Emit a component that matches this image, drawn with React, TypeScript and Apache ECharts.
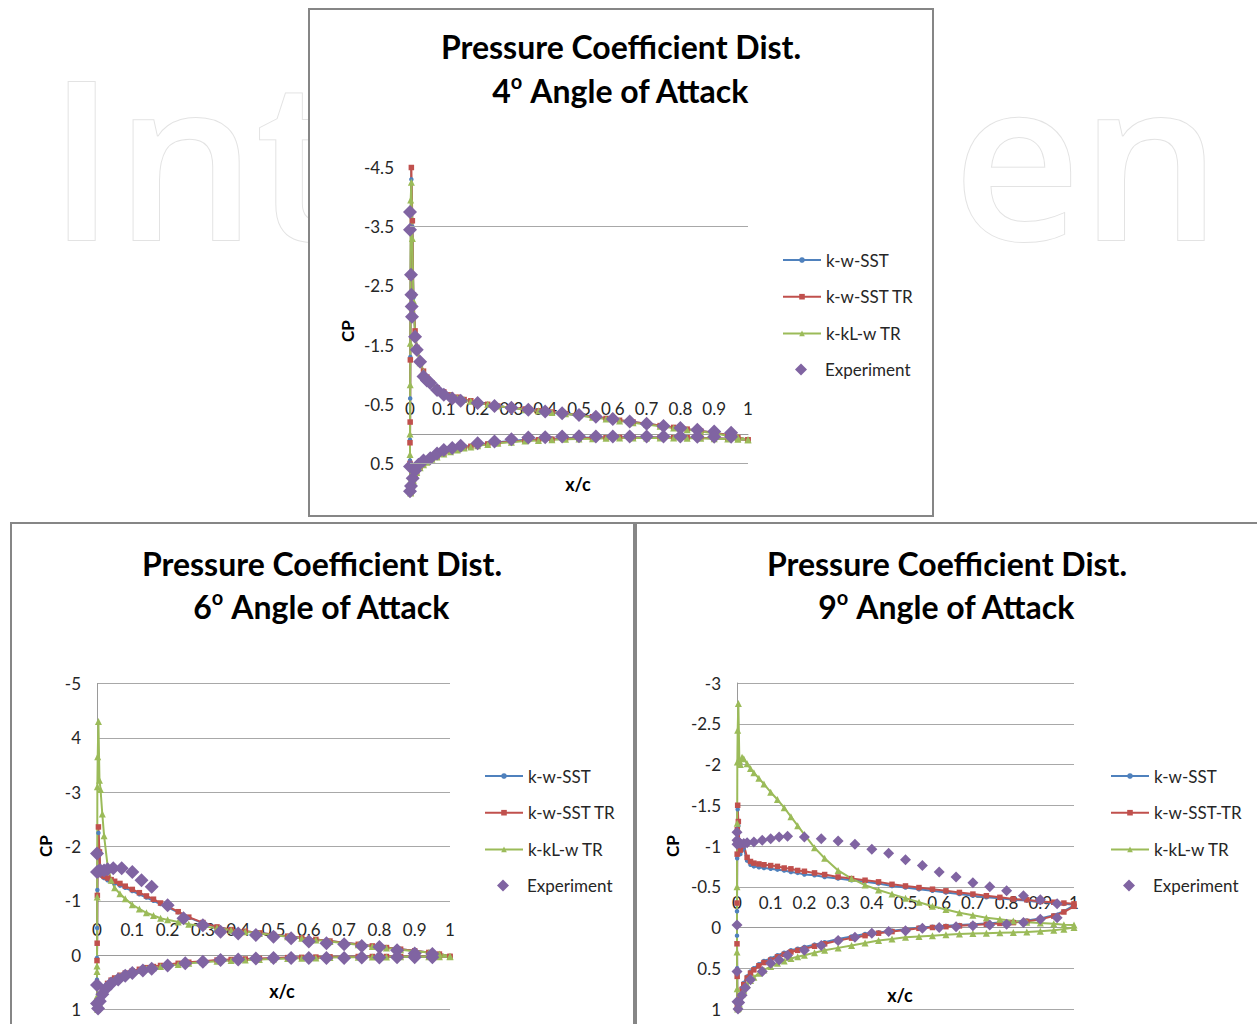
import React, { useEffect, useRef } from "react";
import * as echarts from "echarts";

// Chordwise stations (x/c) shared by every computed distribution, leading edge to trailing edge
const X_STATIONS = [0, 0.0005, 0.001, 0.002, 0.004, 0.007, 0.01, 0.015, 0.02, 0.03, 0.04, 0.05, 0.065, 0.08, 0.1, 0.12, 0.14, 0.16, 0.18, 0.2, 0.23, 0.26, 0.3, 0.34, 0.38, 0.42, 0.46, 0.5, 0.54, 0.58, 0.62, 0.66, 0.7, 0.74, 0.78, 0.82, 0.86, 0.9, 0.94, 0.97, 1];

// ---- 4 degrees ----
const SST_4_UPPER = [0.1, -0.6, -1.3, -2.7, -4.3, -3.5, -2.3, -1.72, -1.45, -1.2, -1.05, -0.95, -0.85, -0.77, -0.7, -0.65, -0.61, -0.58, -0.55, -0.53, -0.5, -0.47, -0.44, -0.41, -0.39, -0.36, -0.34, -0.31, -0.29, -0.26, -0.23, -0.2, -0.17, -0.14, -0.11, -0.08, -0.05, -0.02, 0.02, 0.06, 0.1];
const SSTTR_4_UPPER = [0.15, -0.2, -1.25, -2.65, -4.5, -3.6, -2.35, -1.74, -1.46, -1.21, -1.06, -0.96, -0.86, -0.78, -0.71, -0.66, -0.62, -0.58, -0.56, -0.53, -0.5, -0.47, -0.44, -0.42, -0.39, -0.37, -0.34, -0.32, -0.29, -0.26, -0.23, -0.2, -0.17, -0.14, -0.11, -0.08, -0.05, -0.02, 0.02, 0.06, 0.1];
const KKL_4_UPPER = [0.0, -0.83, -1.53, -3.95, -4.25, -3.3, -2.25, -1.7, -1.44, -1.2, -1.05, -0.95, -0.85, -0.77, -0.7, -0.65, -0.61, -0.58, -0.55, -0.53, -0.5, -0.47, -0.44, -0.41, -0.39, -0.36, -0.34, -0.31, -0.28, -0.25, -0.22, -0.19, -0.16, -0.13, -0.1, -0.07, -0.04, -0.01, 0.03, 0.06, 0.1];
const SST_4_LOWER = [0.45, 0.85, 0.98, 1.0, 0.93, 0.84, 0.77, 0.69, 0.63, 0.55, 0.5, 0.46, 0.41, 0.37, 0.32, 0.28, 0.25, 0.22, 0.2, 0.18, 0.16, 0.14, 0.12, 0.1, 0.09, 0.08, 0.07, 0.065, 0.06, 0.06, 0.055, 0.055, 0.055, 0.06, 0.06, 0.065, 0.07, 0.075, 0.08, 0.09, 0.1];
const SSTTR_4_LOWER = [0.5, 0.88, 0.99, 1.0, 0.94, 0.85, 0.78, 0.7, 0.64, 0.56, 0.51, 0.47, 0.42, 0.38, 0.33, 0.29, 0.26, 0.23, 0.21, 0.19, 0.17, 0.15, 0.13, 0.11, 0.1, 0.09, 0.08, 0.075, 0.07, 0.065, 0.06, 0.06, 0.06, 0.06, 0.065, 0.065, 0.07, 0.075, 0.08, 0.09, 0.1];
const KKL_4_LOWER = [0.35, 0.8, 0.97, 1.0, 0.95, 0.86, 0.79, 0.71, 0.65, 0.57, 0.52, 0.48, 0.43, 0.39, 0.34, 0.3, 0.27, 0.24, 0.22, 0.2, 0.18, 0.16, 0.14, 0.12, 0.11, 0.1, 0.09, 0.085, 0.08, 0.075, 0.07, 0.07, 0.07, 0.07, 0.07, 0.075, 0.075, 0.08, 0.085, 0.09, 0.1];
const EXP_4_X_UPPER = [0, 0, 0.003, 0.004, 0.005, 0.006, 0.015, 0.02, 0.03, 0.04, 0.05, 0.06, 0.08, 0.1, 0.125, 0.15, 0.2, 0.25, 0.3, 0.35, 0.4, 0.45, 0.5, 0.55, 0.6, 0.65, 0.7, 0.75, 0.8, 0.85, 0.9, 0.95];
const EXP_4_CP_UPPER = [-3.75, -3.45, -2.69, -2.35, -2.15, -1.98, -1.64, -1.42, -1.22, -0.97, -0.9, -0.86, -0.74, -0.66, -0.6, -0.56, -0.52, -0.47, -0.44, -0.41, -0.38, -0.35, -0.32, -0.29, -0.25, -0.21, -0.17, -0.135, -0.1, -0.07, -0.04, -0.02];
const EXP_4_X_LOWER = [0, 0, 0.003, 0.008, 0.015, 0.025, 0.04, 0.06, 0.08, 0.1, 0.125, 0.15, 0.2, 0.25, 0.3, 0.35, 0.4, 0.45, 0.5, 0.55, 0.6, 0.65, 0.7, 0.75, 0.8, 0.85, 0.9, 0.95];
const EXP_4_CP_LOWER = [0.55, 0.97, 0.88, 0.75, 0.62, 0.52, 0.45, 0.41, 0.33, 0.27, 0.24, 0.2, 0.16, 0.13, 0.09, 0.06, 0.055, 0.045, 0.04, 0.045, 0.045, 0.045, 0.045, 0.045, 0.045, 0.05, 0.05, 0.05];

// ---- 6 degrees ----
const SST_6_UPPER = [0.05, -0.5, -1.2, -1.85, -2.25, -1.85, -1.5, -1.45, -1.42, -1.38, -1.35, -1.32, -1.28, -1.24, -1.18, -1.12, -1.06, -1.0, -0.94, -0.88, -0.79, -0.69, -0.59, -0.52, -0.47, -0.44, -0.41, -0.38, -0.35, -0.32, -0.29, -0.26, -0.23, -0.2, -0.17, -0.14, -0.11, -0.08, -0.05, -0.02, 0.02];
const SSTTR_6_UPPER = [0.1, -0.22, -1.1, -1.9, -2.36, -1.9, -1.52, -1.48, -1.45, -1.42, -1.39, -1.36, -1.32, -1.27, -1.21, -1.15, -1.09, -1.03, -0.96, -0.9, -0.8, -0.7, -0.6, -0.52, -0.47, -0.44, -0.41, -0.38, -0.35, -0.32, -0.29, -0.26, -0.23, -0.2, -0.17, -0.14, -0.11, -0.08, -0.05, -0.02, 0.02];
const KKL_6_UPPER = [0.2, -1.07, -3.1, -3.65, -4.3, -3.22, -3.05, -2.6, -2.2, -1.65, -1.38, -1.24, -1.13, -1.04, -0.93, -0.85, -0.78, -0.73, -0.68, -0.65, -0.61, -0.57, -0.53, -0.5, -0.46, -0.43, -0.4, -0.37, -0.34, -0.31, -0.28, -0.25, -0.22, -0.19, -0.16, -0.13, -0.1, -0.07, -0.05, -0.02, 0.02];
const SST_6_LOWER = [0.45, 0.8, 0.96, 1.0, 0.95, 0.86, 0.77, 0.67, 0.61, 0.53, 0.47, 0.43, 0.38, 0.34, 0.3, 0.27, 0.24, 0.22, 0.2, 0.18, 0.16, 0.14, 0.12, 0.1, 0.09, 0.08, 0.07, 0.06, 0.05, 0.045, 0.04, 0.035, 0.03, 0.03, 0.03, 0.03, 0.03, 0.03, 0.03, 0.03, 0.03];
const SSTTR_6_LOWER = [0.55, 0.85, 0.97, 1.0, 0.95, 0.85, 0.76, 0.66, 0.6, 0.52, 0.46, 0.42, 0.37, 0.33, 0.29, 0.26, 0.23, 0.21, 0.19, 0.17, 0.15, 0.13, 0.11, 0.09, 0.08, 0.07, 0.06, 0.05, 0.045, 0.04, 0.035, 0.03, 0.03, 0.025, 0.025, 0.025, 0.025, 0.025, 0.025, 0.025, 0.03];
const KKL_6_LOWER = [0.3, 0.75, 0.95, 1.0, 0.96, 0.88, 0.8, 0.7, 0.63, 0.54, 0.48, 0.44, 0.39, 0.35, 0.31, 0.28, 0.25, 0.23, 0.21, 0.19, 0.17, 0.15, 0.13, 0.11, 0.1, 0.09, 0.08, 0.07, 0.06, 0.055, 0.05, 0.045, 0.04, 0.04, 0.035, 0.035, 0.03, 0.03, 0.03, 0.03, 0.03];
const EXP_6_X_UPPER = [0, 0, 0.005, 0.01, 0.02, 0.03, 0.046, 0.07, 0.1, 0.126, 0.155, 0.2, 0.245, 0.3, 0.35, 0.4, 0.45, 0.5, 0.55, 0.6, 0.65, 0.7, 0.75, 0.8, 0.85, 0.9, 0.95];
const EXP_6_CP_UPPER = [-1.87, -1.53, -1.55, -1.56, -1.56, -1.58, -1.6, -1.6, -1.53, -1.38, -1.26, -0.92, -0.68, -0.55, -0.43, -0.4, -0.37, -0.34, -0.31, -0.25, -0.22, -0.2, -0.17, -0.15, -0.09, -0.03, -0.02];
const EXP_6_X_LOWER = [0, 0, 0.003, 0.008, 0.015, 0.025, 0.04, 0.06, 0.08, 0.1, 0.13, 0.155, 0.2, 0.25, 0.3, 0.35, 0.4, 0.45, 0.5, 0.55, 0.6, 0.65, 0.7, 0.75, 0.8, 0.85, 0.9, 0.95];
const EXP_6_CP_LOWER = [0.55, 0.89, 0.98, 0.85, 0.72, 0.62, 0.52, 0.45, 0.38, 0.33, 0.28, 0.25, 0.19, 0.15, 0.12, 0.09, 0.08, 0.06, 0.05, 0.05, 0.05, 0.05, 0.05, 0.045, 0.045, 0.04, 0.04, 0.04];

// ---- 9 degrees ----
const SST_9_UPPER = [-0.2, -0.85, -1.15, -1.45, -1.25, -1.0, -0.9, -0.95, -0.97, -0.82, -0.77, -0.75, -0.74, -0.73, -0.72, -0.71, -0.7, -0.68, -0.67, -0.65, -0.64, -0.62, -0.6, -0.58, -0.56, -0.54, -0.51, -0.49, -0.47, -0.45, -0.43, -0.41, -0.39, -0.37, -0.36, -0.34, -0.33, -0.31, -0.3, -0.29, -0.28];
const SSTTR_9_UPPER = [-0.3, -0.9, -1.2, -1.5, -1.3, -1.05, -0.95, -1.0, -1.02, -0.86, -0.81, -0.79, -0.78, -0.77, -0.76, -0.75, -0.73, -0.72, -0.7, -0.69, -0.67, -0.65, -0.62, -0.6, -0.58, -0.56, -0.53, -0.51, -0.49, -0.47, -0.45, -0.43, -0.41, -0.39, -0.37, -0.35, -0.34, -0.32, -0.31, -0.3, -0.29];
const KKL_9_UPPER = [-0.5, -1.28, -2.03, -2.42, -2.75, -2.05, -2.0, -2.09, -2.07, -2.01, -1.95, -1.9, -1.83, -1.76, -1.66, -1.57, -1.47, -1.36, -1.25, -1.14, -0.98, -0.85, -0.7, -0.6, -0.52, -0.46, -0.41, -0.36, -0.31, -0.26, -0.22, -0.18, -0.15, -0.12, -0.1, -0.08, -0.065, -0.055, -0.045, -0.035, -0.03];
const SST_9_LOWER = [0.1, 0.5, 0.9, 1.0, 0.95, 0.88, 0.82, 0.74, 0.68, 0.6, 0.54, 0.5, 0.45, 0.41, 0.38, 0.34, 0.31, 0.28, 0.26, 0.24, 0.21, 0.18, 0.14, 0.11, 0.08, 0.06, 0.04, 0.02, 0.0, -0.01, -0.02, -0.03, -0.04, -0.05, -0.06, -0.07, -0.085, -0.11, -0.15, -0.2, -0.27];
const SSTTR_9_LOWER = [0.2, 0.6, 0.95, 1.0, 0.96, 0.9, 0.84, 0.76, 0.7, 0.62, 0.56, 0.52, 0.47, 0.43, 0.4, 0.36, 0.33, 0.3, 0.28, 0.26, 0.23, 0.2, 0.16, 0.13, 0.1, 0.07, 0.05, 0.03, 0.01, 0.0, -0.01, -0.02, -0.03, -0.04, -0.05, -0.06, -0.075, -0.1, -0.14, -0.19, -0.26];
const KKL_9_LOWER = [0.3, 0.75, 0.98, 1.0, 0.99, 0.94, 0.89, 0.82, 0.77, 0.7, 0.65, 0.61, 0.56, 0.52, 0.48, 0.44, 0.41, 0.38, 0.36, 0.34, 0.31, 0.28, 0.25, 0.22, 0.19, 0.16, 0.14, 0.12, 0.11, 0.1, 0.09, 0.08, 0.075, 0.07, 0.065, 0.06, 0.055, 0.045, 0.035, 0.02, 0.0];
const EXP_9_X_UPPER = [0, 0, 0, 0.005, 0.01, 0.02, 0.03, 0.05, 0.075, 0.1, 0.125, 0.15, 0.2, 0.25, 0.3, 0.35, 0.4, 0.45, 0.5, 0.55, 0.6, 0.65, 0.7, 0.75, 0.8, 0.85, 0.9, 0.95];
const EXP_9_CP_UPPER = [-1.17, -1.07, -1.02, -1.04, -1.03, -1.03, -1.04, -1.05, -1.07, -1.09, -1.11, -1.12, -1.11, -1.09, -1.06, -1.02, -0.96, -0.91, -0.83, -0.76, -0.68, -0.62, -0.55, -0.5, -0.45, -0.39, -0.34, -0.29];
const EXP_9_X_LOWER = [0, 0, 0, 0.003, 0.008, 0.015, 0.025, 0.04, 0.075, 0.1, 0.125, 0.15, 0.2, 0.25, 0.3, 0.35, 0.4, 0.45, 0.5, 0.55, 0.6, 0.65, 0.7, 0.75, 0.8, 0.85, 0.9, 0.95];
const EXP_9_CP_LOWER = [-0.03, 0.54, 0.91, 1.0, 0.92, 0.83, 0.74, 0.64, 0.54, 0.44, 0.4, 0.34, 0.28, 0.22, 0.16, 0.12, 0.07, 0.05, 0.04, 0.01, 0.0, -0.01, -0.02, -0.03, -0.04, -0.06, -0.1, -0.12];

// ---- labels ----
const MODEL_NAMES = ["k-w-SST", "k-w-SST TR", "k-kL-w TR"];
const MODEL_NAMES_9 = ["k-w-SST", "k-w-SST-TR", "k-kL-w TR"];
const EXPERIMENT = "Experiment";
const TITLE_LINE = "Pressure Coefficient Dist.";
const Y_LABELS_6 = ["-5", "4", "-3", "-2", "-1", "0", "1"];
const TOP_GRID_LINES = [-3.5, 0.5];

// ---- styling ----
const FONT = "Lato, 'Open Sans', sans-serif";
const TEXT = "#262626";
const AXIS_GRAY = "#9a9a9a";
const GRID_GRAY = "#a8a8a8";
const FRAME_GRAY = "#868686";
const MODEL_STYLES = [
  { symbol: "circle", size: 4.5, color: "#4F81BD" },
  { symbol: "rect", size: 5.5, color: "#C0504D" },
  { symbol: "triangle", size: 7, color: "#9BBB59" },
];
const EXP_COLOR = "#8064A2";

const PANELS = [
  {
    angle: "4",
    names: MODEL_NAMES,
    upper: [SST_4_UPPER, SSTTR_4_UPPER, KKL_4_UPPER],
    lower: [SST_4_LOWER, SSTTR_4_LOWER, KKL_4_LOWER],
    exp: [EXP_4_X_UPPER, EXP_4_CP_UPPER, EXP_4_X_LOWER, EXP_4_CP_LOWER],
    yMin: -4.5, yMax: 1, yStep: 1,
    yFormat: (v: number) => v.toFixed(1),
    showMaxLabel: false,
    grid: { left: 410, top: 167.5, width: 338, height: 325.6 },
    frame: { x: 309, y: 9, width: 624, height: 507 },
    titleX: 621, titleY: [46, 90],
    cp: [347, 331], xc: [578, 484],
    legendX: 782, legendY: 260,
    diamond: 14,
  },
  {
    angle: "6",
    names: MODEL_NAMES,
    upper: [SST_6_UPPER, SSTTR_6_UPPER, KKL_6_UPPER],
    lower: [SST_6_LOWER, SSTTR_6_LOWER, KKL_6_LOWER],
    exp: [EXP_6_X_UPPER, EXP_6_CP_UPPER, EXP_6_X_LOWER, EXP_6_CP_LOWER],
    yMin: -5, yMax: 1, yStep: 1,
    yFormat: (v: number) => Y_LABELS_6[Math.round(v + 5)] ?? String(v),
    showMaxLabel: true,
    grid: { left: 97, top: 683.5, width: 353, height: 326 },
    frame: { x: 11, y: 523, width: 623, height: 530 },
    titleX: 322, titleY: [563, 606],
    cp: [45, 846], xc: [282, 991],
    legendX: 484, legendY: 776,
    diamond: 14,
  },
  {
    angle: "9",
    names: MODEL_NAMES_9,
    upper: [SST_9_UPPER, SSTTR_9_UPPER, KKL_9_UPPER],
    lower: [SST_9_LOWER, SSTTR_9_LOWER, KKL_9_LOWER],
    exp: [EXP_9_X_UPPER, EXP_9_CP_UPPER, EXP_9_X_LOWER, EXP_9_CP_LOWER],
    yMin: -3, yMax: 1, yStep: 0.5,
    yFormat: (v: number) => String(v),
    showMaxLabel: true,
    grid: { left: 737, top: 683, width: 337, height: 326 },
    frame: { x: 636, y: 523, width: 650, height: 530 },
    titleX: 947, titleY: [563, 606],
    cp: [672, 846], xc: [900, 995],
    legendX: 1110, legendY: 776,
    diamond: 11,
  },
];

// Background watermark pieces that stay visible around the top frame
const WATERMARK = [
  { text: "Int", x: 48, align: "left" },
  { text: "en", x: 1221, align: "right" },
];

// Surface loop: upper surface from trailing edge to leading edge, then lower surface back
function surfaceLoop(upper: number[], lower: number[]) {
  const pts: number[][] = [];
  for (let i = X_STATIONS.length - 1; i >= 0; i--) pts.push([X_STATIONS[i], upper[i]]);
  for (let i = 0; i < X_STATIONS.length; i++) pts.push([X_STATIONS[i], lower[i]]);
  return pts;
}

function pairs(xs: number[], ys: number[]) {
  return xs.map((x, i) => [x, ys[i]]);
}

function buildOption() {
  const grid: any[] = [];
  const xAxis: any[] = [];
  const yAxis: any[] = [];
  const series: any[] = [];
  const legend: any[] = [];
  const graphic: any[] = [];

  WATERMARK.forEach((g) => {
    graphic.push({
      type: "text",
      z: -10,
      silent: true,
      style: {
        text: g.text,
        x: g.x,
        y: 154,
        align: g.align,
        verticalAlign: "middle",
        fontSize: 221,
        fontWeight: 600,
        fontFamily: "'Open Sans', sans-serif",
        fill: "#ffffff",
        stroke: "#e3e3e3",
        lineWidth: 2,
      },
    });
  });

  PANELS.forEach((p, i) => {
    graphic.push({
      type: "rect",
      z: -5,
      silent: true,
      shape: p.frame,
      style: { fill: "#ffffff", stroke: FRAME_GRAY, lineWidth: 2 },
    });
    graphic.push({
      type: "text",
      z: 10,
      silent: true,
      style: {
        text: TITLE_LINE,
        x: p.titleX,
        y: p.titleY[0],
        align: "center",
        verticalAlign: "middle",
        fontSize: 32,
        fontWeight: "bold",
        fontFamily: FONT,
        fill: "#000",
      },
    });
    graphic.push({
      type: "text",
      z: 10,
      silent: true,
      style: {
        text: `{m|${p.angle}}{s|o}{m| Angle of Attack}`,
        x: p.titleX,
        y: p.titleY[1],
        align: "center",
        verticalAlign: "middle",
        rich: {
          m: { fontSize: 32, fontWeight: "bold", fontFamily: FONT, fill: "#000", lineHeight: 38 },
          s: { fontSize: 20, fontWeight: "bold", fontFamily: FONT, fill: "#000", lineHeight: 20, verticalAlign: "top" },
        },
      },
    });
    graphic.push({
      type: "text",
      z: 10,
      silent: true,
      x: p.cp[0],
      y: p.cp[1],
      rotation: Math.PI / 2,
      style: {
        text: "CP",
        x: 0,
        y: 0,
        align: "center",
        verticalAlign: "middle",
        fontSize: 17,
        fontWeight: "bold",
        fontFamily: FONT,
        fill: "#000",
      },
    });
    graphic.push({
      type: "text",
      z: 10,
      silent: true,
      style: {
        text: "x/c",
        x: p.xc[0],
        y: p.xc[1],
        align: "center",
        verticalAlign: "middle",
        fontSize: 18,
        fontWeight: "bold",
        fontFamily: FONT,
        fill: "#000",
      },
    });

    grid.push({ ...p.grid, containLabel: false, outerBoundsMode: "none" });

    // the horizontal axis crosses the inverted Cp axis at Cp = 0
    const zeroOffset = (p.grid.height * (0 - p.yMin)) / (p.yMax - p.yMin);
    xAxis.push({
      type: "value",
      gridIndex: i,
      min: 0,
      max: 1,
      interval: 0.1,
      position: "top",
      offset: -zeroOffset,
      axisLine: { show: true, onZero: false, lineStyle: { color: AXIS_GRAY, width: 1 } },
      axisTick: { show: false },
      splitLine: { show: false },
      axisLabel: {
        margin: 17,
        color: TEXT,
        fontSize: 17,
        fontFamily: FONT,
        formatter: (v: number) => String(Math.round(v * 10) / 10),
      },
    });

    yAxis.push({
      type: "value",
      gridIndex: i,
      inverse: true,
      min: p.yMin,
      max: p.yMax,
      interval: p.yStep,
      axisLine: { show: true, onZero: false, lineStyle: { color: AXIS_GRAY, width: 1 } },
      axisTick: { show: false },
      splitLine: { show: i !== 0, lineStyle: { color: GRID_GRAY, width: 1 } },
      axisLabel: {
        margin: 16,
        color: TEXT,
        fontSize: 17,
        fontFamily: FONT,
        showMaxLabel: p.showMaxLabel,
        formatter: p.yFormat,
      },
    });

    p.names.forEach((name, k) => {
      const st = MODEL_STYLES[k];
      const s: any = {
        type: "line",
        name,
        xAxisIndex: i,
        yAxisIndex: i,
        data: surfaceLoop(p.upper[k], p.lower[k]),
        symbol: st.symbol,
        symbolSize: st.size,
        showSymbol: true,
        showAllSymbol: true,
        silent: true,
        lineStyle: { color: st.color, width: 2 },
        itemStyle: { color: st.color, borderWidth: 0 },
        emphasis: { disabled: true },
      };
      if (i === 0 && k === 0) {
        s.markLine = {
          silent: true,
          symbol: ["none", "none"],
          label: { show: false },
          lineStyle: { color: GRID_GRAY, type: "solid", width: 1 },
          data: TOP_GRID_LINES.map((v) => ({ yAxis: v })),
        };
      }
      series.push(s);
    });

    const [xu, cu, xl, cl] = p.exp;
    series.push({
      type: "scatter",
      name: EXPERIMENT,
      xAxisIndex: i,
      yAxisIndex: i,
      data: pairs(xu, cu).concat(pairs(xl, cl)),
      symbol: "diamond",
      symbolSize: p.diamond,
      silent: true,
      itemStyle: { color: EXP_COLOR, opacity: 1 },
      emphasis: { disabled: true },
      z: 3,
    });

    const legendText = { color: TEXT, fontSize: 17, fontFamily: FONT };
    legend.push({
      orient: "vertical",
      left: p.legendX,
      top: p.legendY - 8.5,
      padding: 0,
      itemWidth: 38,
      itemHeight: 7,
      itemGap: 19.7,
      selectedMode: false,
      textStyle: legendText,
      lineStyle: { width: 2 },
      data: p.names,
    });
    // experiment entry: a small diamond centred under the line icons, text aligned with them
    legend.push({
      orient: "vertical",
      left: p.legendX + 13,
      top: p.legendY + 3 * 36.5 - 8.5,
      padding: 0,
      itemWidth: 12,
      itemHeight: 12,
      selectedMode: false,
      textStyle: { ...legendText, padding: [0, 0, 0, 13] },
      data: [{ name: EXPERIMENT, icon: "diamond" }],
    });
  });

  return {
    animation: false,
    backgroundColor: "#ffffff",
    textStyle: { fontFamily: FONT },
    grid,
    xAxis,
    yAxis,
    series,
    legend,
    graphic: { elements: graphic },
  };
}

export default function App() {
  const ref = useRef<HTMLDivElement>(null);
  useEffect(() => {
    if (!ref.current) return;
    const chart = echarts.init(ref.current, undefined, { renderer: "svg" });
    chart.setOption(buildOption() as any);
    return () => chart.dispose();
  }, []);
  return (
    <div
      ref={ref}
      style={{ position: "absolute", left: 0, top: 0, width: 1257, height: 1024, background: "#fff" }}
    />
  );
}
